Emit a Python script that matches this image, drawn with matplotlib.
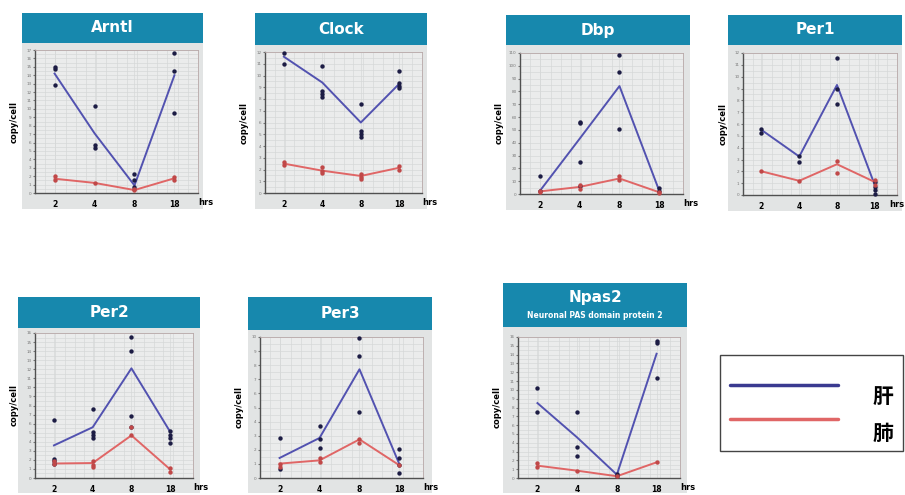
import matplotlib.pyplot as plt
from matplotlib.patches import Rectangle
import numpy as np

plt.rcParams['font.family'] = ['DejaVu Sans', 'Noto Sans CJK JP']

# time points (hrs) and gene names
hrs = ['2', '4', '8', '18']
genes = ['Arntl', 'Clock', 'Dbp', 'Per1', 'Per2', 'Per3', 'Npas2']
ymax = [17, 12, 110, 12, 16, 10, 16]

# liver (blue) individual samples and means, per time point
liver_pts = [
    [[15.0, 14.8, 12.8], [10.3, 5.7, 5.4], [2.3, 1.5, 0.7], [16.7, 14.5, 9.5]],
    [[11.9, 11.0], [10.8, 8.7, 8.4, 8.2], [7.6, 5.3, 5.0, 4.8], [10.4, 9.4, 9.1, 8.9]],
    [[13.8, 2.2], [56.4, 55.1, 25.3, 5.9], [108.2, 95.3, 50.5], [4.6, 2.2]],
    [[5.6, 5.2], [3.3, 2.8], [11.6, 9.0, 7.7], [1.1, 0.7, 0.4, 0.1]],
    [[6.4, 2.1, 1.85, 1.6], [7.6, 5.1, 4.7, 4.4], [15.6, 14.0, 6.8, 5.6], [5.2, 4.8, 4.4, 3.9]],
    [[2.84, 0.66], [3.69, 2.79, 2.13], [9.93, 8.65, 4.68], [2.08, 1.42, 0.9, 0.38]],
    [[10.2, 7.5], [7.5, 3.5, 2.5], [0.45, 0.26], [15.6, 15.3, 11.4]],
]
liver_mean = [
    [14.2, 7.1, 0.9, 14.0],
    [11.6, 9.4, 6.0, 9.3],
    [2.1, 43.0, 84.2, 2.1],
    [5.5, 3.25, 9.3, 0.85],
    [3.6, 5.6, 12.1, 5.1],
    [1.42, 2.84, 7.71, 0.97],
    [8.5, 4.6, 0.38, 14.1],
]

# lung (red) individual samples and means
lung_pts = [
    [[2.0, 1.5], [1.2], [0.5, 0.35], [1.9, 1.5]],
    [[2.6, 2.4], [2.2, 1.9, 1.7], [1.6, 1.4, 1.2], [2.3, 2.0]],
    [[2.2, 1.5], [7.3, 3.9], [14.3, 11.0], [1.3, 0.8]],
    [[2.0], [1.2], [2.9, 1.9], [1.3, 0.85]],
    [[1.85, 1.5], [1.85, 1.4, 1.2], [5.6, 4.7], [1.1, 0.7]],
    [[1.02, 0.8], [1.4, 1.1], [2.8, 2.5], [0.9]],
    [[1.7, 1.3], [0.85], [0.2], [1.8]],
]
lung_mean = [
    [1.7, 1.2, 0.35, 1.75],
    [2.5, 1.9, 1.45, 2.15],
    [2.0, 5.5, 12.1, 1.3],
    [2.0, 1.2, 2.6, 1.1],
    [1.6, 1.65, 4.7, 0.95],
    [1.02, 1.25, 2.74, 0.9],
    [1.4, 0.83, 0.2, 1.78],
]

W, H = 905, 495
fig = plt.figure(figsize=(W / 100, H / 100), dpi=100)

def fr(x0, y0, x1, y1):
    # pixel box -> figure fraction rect
    return [x0 / W, 1 - y1 / H, (x1 - x0) / W, (y1 - y0) / H]

# axes boxes and header boxes in pixels
ax_box = [(35, 50, 198, 193), (265, 52, 422, 193), (520, 53, 683, 194), (743, 53, 897, 195),
          (35, 333, 193, 478), (260, 337, 423, 478), (518, 337, 680, 478)]
head_box = [(22, 13, 203, 43), (255, 13, 427, 45), (506, 15, 690, 45), (728, 15, 902, 45),
            (18, 297, 200, 328), (248, 297, 432, 330), (503, 283, 687, 327)]

teal = '#1788ad'
blue = '#5252b0'
red = '#e06666'

for i, g in enumerate(genes):
    hx0, hy0, hx1, hy1 = head_box[i]
    ax0, ay0, ax1, ay1 = ax_box[i]
    # gray panel background
    bg = fr(hx0, hy1, hx1, min(ay1 + 16, 493))
    fig.patches.append(Rectangle((bg[0], bg[1]), bg[2], bg[3], transform=fig.transFigure,
                                 facecolor='#e2e4e4', edgecolor='none', zorder=-2))
    hb = fr(hx0, hy0, hx1, hy1)
    fig.patches.append(Rectangle((hb[0], hb[1]), hb[2], hb[3], transform=fig.transFigure,
                                 facecolor=teal, edgecolor='none', zorder=-1))
    if g == 'Npas2':
        fig.text(hb[0] + hb[2] / 2, hb[1] + hb[3] * 0.68, g, color='white', fontsize=11,
                 fontweight='bold', ha='center', va='center')
        fig.text(hb[0] + hb[2] / 2, hb[1] + hb[3] * 0.25, 'Neuronal PAS domain protein 2',
                 color='white', fontsize=5.5, fontweight='bold', ha='center', va='center')
    else:
        fig.text(hb[0] + hb[2] / 2, hb[1] + hb[3] / 2, g, color='white', fontsize=11,
                 fontweight='bold', ha='center', va='center')

    ax = fig.add_axes(fr(ax0, ay0, ax1, ay1))
    ax.set_facecolor('#ebecec')
    x = np.arange(1, 5)
    ax.plot(x, liver_mean[i], color=blue, lw=1.4, zorder=3)
    ax.plot(x, lung_mean[i], color=red, lw=1.4, zorder=3)
    for j in range(4):
        ax.scatter([x[j]] * len(liver_pts[i][j]), liver_pts[i][j], s=10, color='#1c1c44',
                   zorder=4, clip_on=False, linewidths=0)
        ax.scatter([x[j]] * len(lung_pts[i][j]), lung_pts[i][j], s=10, color='#c04848',
                   zorder=4, clip_on=False, linewidths=0)
    ax.set_xlim(0.51, 4.59)
    ax.set_ylim(0, ymax[i])
    step = 10 if ymax[i] > 50 else 1
    ax.set_yticks(np.arange(0, ymax[i] + 0.01, step))
    ax.set_yticks(np.arange(0, ymax[i] + 0.01, step / 2), minor=True)
    ax.tick_params(axis='y', labelsize=3, colors='#777777', length=1.5, pad=1)
    ax.tick_params(axis='y', which='minor', length=0)
    ax.set_xticks(x)
    ax.set_xticks(np.arange(0.51, 4.6, 0.255), minor=True)
    ax.set_xticklabels(hrs, fontsize=5.5, fontweight='bold')
    ax.tick_params(axis='x', length=0, pad=5)
    ax.tick_params(axis='x', which='minor', length=0)
    ax.grid(True, which='both', color='#d6d8d8', lw=0.5)
    ax.set_axisbelow(True)
    for s in ['top', 'right']:
        ax.spines[s].set_color('#b8a8a8')
        ax.spines[s].set_linewidth(0.6)
    for s in ['left', 'bottom']:
        ax.spines[s].set_color('#505050')
        ax.spines[s].set_linewidth(1.0)
    if ax1 > 880:
        fig.text(904 / W, 1 - (ay1 + 5) / H, 'hrs', fontsize=6, fontweight='bold',
                 ha='right', va='top')
    else:
        ax.text(1.0, -0.035, 'hrs', transform=ax.transAxes, fontsize=6, fontweight='bold',
                ha='left', va='top')
    ax.text(-0.13, 0.5, 'copy/cell', transform=ax.transAxes, rotation=90, fontsize=6,
            fontweight='bold', ha='center', va='center')

# legend box
lb = fr(720, 355, 903, 451)
fig.patches.append(Rectangle((lb[0], lb[1]), lb[2], lb[3], transform=fig.transFigure,
                             facecolor='white', edgecolor='#444444', lw=1.0, zorder=-1))
leg = fig.add_axes(lb)
leg.set_xlim(720, 903)
leg.set_ylim(451, 355)
leg.axis('off')
leg.plot([730, 838], [385, 385], color='#3a3a90', lw=2.5, solid_capstyle='round')
leg.plot([730, 838], [419, 419], color=red, lw=2.5, solid_capstyle='round')
leg.text(883, 396, '肝', fontsize=15, fontweight='bold', ha='center', va='center',
         family=['Noto Sans CJK JP', 'DejaVu Sans'])
leg.text(883, 433, '肺', fontsize=15, fontweight='bold', ha='center', va='center',
         family=['Noto Sans CJK JP', 'DejaVu Sans'])

fig.savefig('out.png', dpi=100)
